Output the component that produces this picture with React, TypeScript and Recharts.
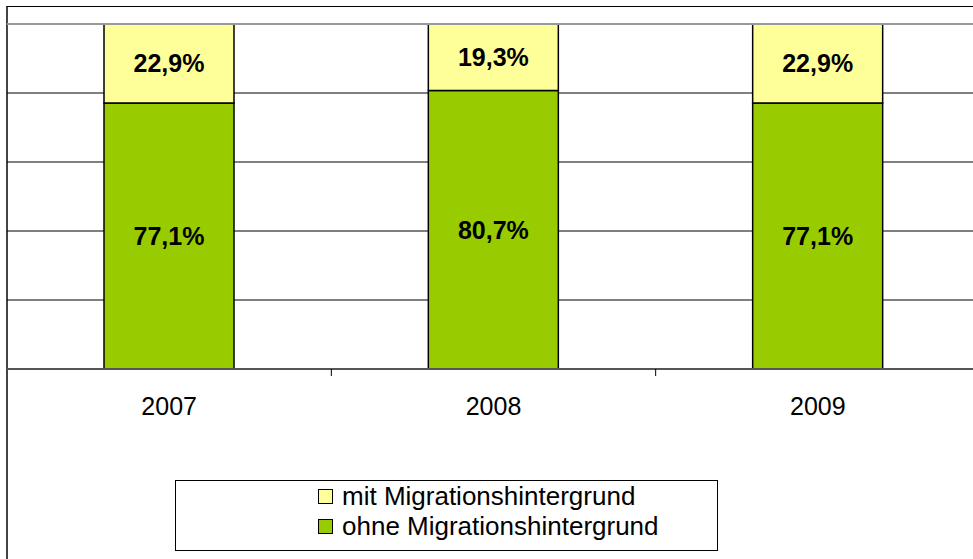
import { BarChart, Bar, XAxis, YAxis, CartesianGrid, ReferenceLine, Legend, LabelList } from 'recharts'

const years = ['2007', '2008', '2009']
const ohneMigration = [77.1, 80.7, 77.1]
const mitMigration = [22.9, 19.3, 22.9]
const seriesNames = ['mit Migrationshintergrund', 'ohne Migrationshintergrund']
const yTicks = [0, 20, 40, 60, 80, 100]

const data = years.map((year, i) => ({
  year,
  ohne: ohneMigration[i],
  mit: mitMigration[i],
}))

const FONT = 'Liberation Sans, Arial, sans-serif'

const fmt = (v: number) => `${v.toFixed(1).replace('.', ',')}%`

function YearTick(props: any) {
  const { x, y, payload } = props
  const edge = x + (payload.offset || 0)
  return (
    <g>
      <line x1={edge} x2={edge} y1={y - 8} y2={y - 1} stroke="#000" strokeWidth={1} />
      <text x={x} y={y + 38} textAnchor="middle" fontSize={25} fontFamily={FONT} fill="#000">
        {payload.value}
      </text>
    </g>
  )
}

function LegendBox({ payload }: any) {
  const items = [...(payload || [])].sort(
    (a: any, b: any) => seriesNames.indexOf(a.value) - seriesNames.indexOf(b.value)
  )
  return (
    <div
      style={{
        border: '1.5px solid #000',
        boxSizing: 'border-box',
        width: 543,
        height: 71,
        paddingLeft: 142,
        paddingTop: 0,
        fontFamily: FONT,
        fontSize: 26,
        lineHeight: '30px',
        textAlign: 'left',
        background: '#fff',
      }}
    >
      {items.map((item: any) => (
        <div key={item.value} style={{ display: 'flex', alignItems: 'center' }}>
          <span
            style={{
              display: 'inline-block',
              width: 13,
              height: 13,
              background: item.color,
              border: '1.5px solid #000',
              marginRight: 9,
            }}
          />
          <span style={{ color: '#000' }}>{item.value}</span>
        </div>
      ))}
    </div>
  )
}

export default function App() {
  return (
    <div
      style={{
        position: 'absolute',
        left: 0,
        top: 0,
        width: 973,
        height: 559,
        overflow: 'hidden',
        background: '#fff',
      }}
    >
      <div
        style={{
          position: 'absolute',
          left: 6,
          top: 6,
          width: 1100,
          height: 700,
          borderTop: '1px solid #000',
          borderLeft: '2px solid #444',
        }}
      />
      <div style={{ position: 'absolute', left: 0, top: 0 }}>
        <BarChart
          width={990}
          height={559}
          data={data}
          margin={{ top: 24, right: 10, left: 7, bottom: 59 }}
          barSize={130}
        >
          <CartesianGrid vertical={false} stroke="#000" strokeWidth={1} />
          <YAxis hide domain={[0, 100]} ticks={yTicks} />
          <XAxis
            dataKey="year"
            height={60}
            tickLine={false}
            axisLine={{ stroke: '#555', strokeWidth: 2 }}
            tick={<YearTick />}
            interval={0}
          />
          <ReferenceLine y={100} stroke="#999" strokeWidth={2} />
          <Legend
            layout="vertical"
            align="center"
            verticalAlign="bottom"
            content={<LegendBox />}
            wrapperStyle={{ left: 175, top: 480, width: 543, height: 71, bottom: 'auto' }}
          />
          <Bar
            dataKey="ohne"
            name={seriesNames[1]}
            stackId="a"
            fill="#99CC00"
            stroke="#000"
            strokeWidth={1.5}
            isAnimationActive={false}
          >
            <LabelList
              dataKey="ohne"
              position="center"
              formatter={(v: any) => fmt(Number(v))}
              style={{ fontFamily: FONT, fontSize: 25, fontWeight: 'bold', fill: '#000' }}
            />
          </Bar>
          <Bar
            dataKey="mit"
            name={seriesNames[0]}
            stackId="a"
            fill="#FFFF99"
            stroke="#000"
            strokeWidth={1.5}
            isAnimationActive={false}
          >
            <LabelList
              dataKey="mit"
              position="center"
              formatter={(v: any) => fmt(Number(v))}
              style={{ fontFamily: FONT, fontSize: 25, fontWeight: 'bold', fill: '#000' }}
            />
          </Bar>
        </BarChart>
      </div>
    </div>
  )
}
